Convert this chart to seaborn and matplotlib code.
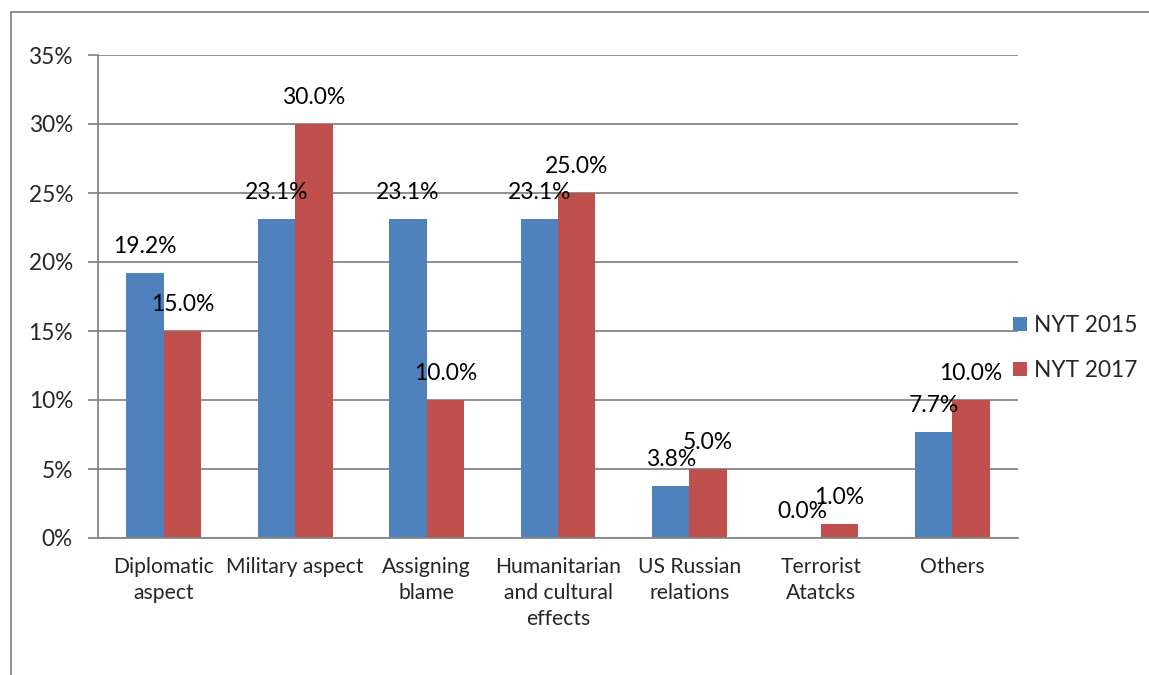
import pandas as pd
import matplotlib
matplotlib.use('Agg')
import matplotlib.pyplot as plt
import seaborn as sns
from matplotlib.ticker import PercentFormatter
from matplotlib.patches import Rectangle

categories = ['Diplomatic\naspect', 'Military aspect', 'Assigning\nblame',
              'Humanitarian\nand cultural\neffects', 'US Russian\nrelations',
              'Terrorist\nAtatcks', 'Others']
series_names = ['NYT 2015', 'NYT 2017']
nyt_2015 = [19.2, 23.1, 23.1, 23.1, 3.8, 0.0, 7.7]
nyt_2017 = [15.0, 30.0, 10.0, 25.0, 5.0, 1.0, 10.0]
y_ticks = [0, 5, 10, 15, 20, 25, 30, 35]

colors = ['#4F81BD', '#C0504D']
grid_color = '#868686'

df = pd.DataFrame({
    'category': categories * 2,
    'series': [series_names[0]] * len(categories) + [series_names[1]] * len(categories),
    'value': nyt_2015 + nyt_2017,
})

sns.set_style('white')
plt.rcParams['font.family'] = ['Lato', 'DejaVu Sans']

fig = plt.figure(figsize=(11.49, 6.75), dpi=100)
ax = fig.add_axes([98 / 1149, 1 - 538 / 675, 920 / 1149, 483 / 675])

sns.barplot(data=df, x='category', y='value', hue='series', palette=colors,
            width=0.57, gap=0, saturation=1, edgecolor='none', ax=ax)

for cont in ax.containers:
    ax.bar_label(cont, fmt='%.1f%%', padding=11.5, fontsize=16.5, color='black')

ax.set_ylim(0, 35)
ax.set_yticks(y_ticks)
ax.yaxis.set_major_formatter(PercentFormatter(decimals=0))
ax.set_xlim(-0.5, len(categories) - 0.5)
ax.set_xlabel('')
ax.set_ylabel('')

ax.grid(axis='y', color=grid_color, linewidth=1.3)
ax.set_axisbelow(True)
for side in ['top', 'right']:
    ax.spines[side].set_visible(False)
for side in ['left', 'bottom']:
    ax.spines[side].set_color(grid_color)
    ax.spines[side].set_linewidth(1.3)

# category boundary ticks like Excel
ax.set_xticks([i - 0.5 for i in range(len(categories) + 1)], minor=True)
ax.tick_params(axis='x', which='minor', length=7, width=1.3, color=grid_color)
ax.tick_params(axis='x', which='major', length=0, labelsize=15.2, pad=14)
ax.tick_params(axis='y', length=7, width=1.3, color=grid_color, labelsize=16.3, pad=11, left=True)
for lbl in ax.get_xticklabels():
    lbl.set_linespacing(1.36)
    lbl.set_verticalalignment('top')

ax.legend(loc='center left', bbox_to_anchor=(1013 / 1149, 1 - 348 / 675),
          bbox_transform=fig.transFigure, frameon=False,
          fontsize=16.3, handlelength=0.62, handleheight=0.62, handletextpad=0.3,
          labelspacing=1.05, borderaxespad=0, borderpad=0)

fig.add_artist(Rectangle((11 / 1149, -0.1), 1.2, 1 - 12 / 675 + 0.1,
                         transform=fig.transFigure, fill=False,
                         edgecolor=grid_color, linewidth=1.3))

fig.savefig('out.png', dpi=100)
